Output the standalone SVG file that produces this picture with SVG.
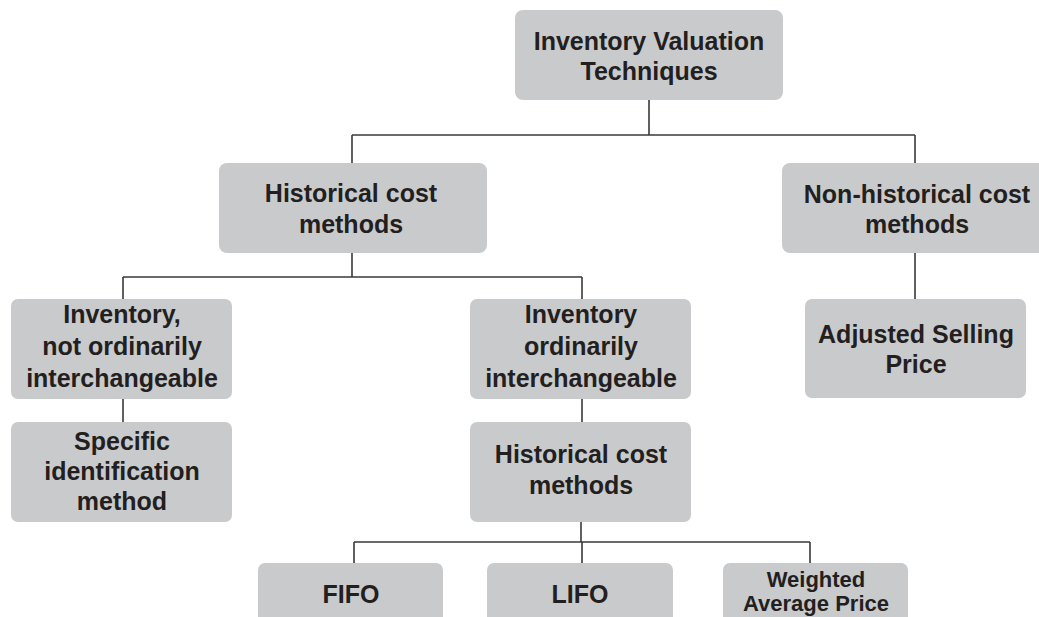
<svg xmlns="http://www.w3.org/2000/svg" width="1039" height="617" viewBox="0 0 1039 617">
<style>
.box{fill:#c9cacc;}
.t{font-family:"Liberation Sans",Arial,sans-serif;font-weight:bold;font-size:25px;fill:#231f20;text-anchor:middle;}
.s{font-size:22px;}
.c{fill:none;stroke:#3a3a3a;stroke-width:1.6;}
</style>
<rect width="1039" height="617" fill="#ffffff"/>
<g id="connectors" class="c">
<path d="M649 100V135M352 135H915M352 135V163M915 135V163"/>
<path d="M352 253V277M123 277H582M123 277V299M582 277V299"/>
<path d="M123 399V422M582 399V422M915 253V299"/>
<path d="M581 522V542M354 542H810M354 542V563M582 542V563M810 542V563"/>
</g>
<g id="n-root"><rect class="box" x="515" y="10" width="268" height="90" rx="8"/><text class="t" x="649" y="50">Inventory Valuation</text><text class="t" x="649" y="80">Techniques</text></g>
<g id="n-hist"><rect class="box" x="219" y="163" width="268" height="90" rx="8"/><text class="t" x="351" y="202">Historical cost</text><text class="t" x="351" y="233">methods</text></g>
<g id="n-nonhist"><rect class="box" x="782" y="163" width="264" height="90" rx="8"/><text class="t" x="917" y="203">Non-historical cost</text><text class="t" x="917" y="233">methods</text></g>
<g id="n-notinter"><rect class="box" x="11" y="299" width="221" height="100" rx="7"/><text class="t" x="122" y="323">Inventory,</text><text class="t" x="122" y="355">not ordinarily</text><text class="t" x="122" y="387">interchangeable</text></g>
<g id="n-inter"><rect class="box" x="470" y="299" width="221" height="100" rx="7"/><text class="t" x="581" y="323">Inventory</text><text class="t" x="581" y="355">ordinarily</text><text class="t" x="581" y="387">interchangeable</text></g>
<g id="n-adjusted"><rect class="box" x="805" y="299" width="221" height="99" rx="7"/><text class="t" x="916" y="343">Adjusted Selling</text><text class="t" x="916" y="373">Price</text></g>
<g id="n-specific"><rect class="box" x="11" y="422" width="221" height="100" rx="7"/><text class="t" x="122" y="450">Specific</text><text class="t" x="122" y="480">identification</text><text class="t" x="122" y="510">method</text></g>
<g id="n-hist2"><rect class="box" x="470" y="422" width="221" height="100" rx="7"/><text class="t" x="581" y="463">Historical cost</text><text class="t" x="581" y="494">methods</text></g>
<g id="n-fifo"><rect class="box" x="258" y="563" width="185" height="100" rx="7"/><text class="t" x="351" y="603">FIFO</text></g>
<g id="n-lifo"><rect class="box" x="487" y="563" width="186" height="100" rx="7"/><text class="t" x="580" y="603">LIFO</text></g>
<g id="n-wap"><rect class="box" x="723" y="563" width="185" height="100" rx="7"/><text class="t s" x="816" y="587">Weighted</text><text class="t s" x="816" y="611">Average Price</text></g>
</svg>
